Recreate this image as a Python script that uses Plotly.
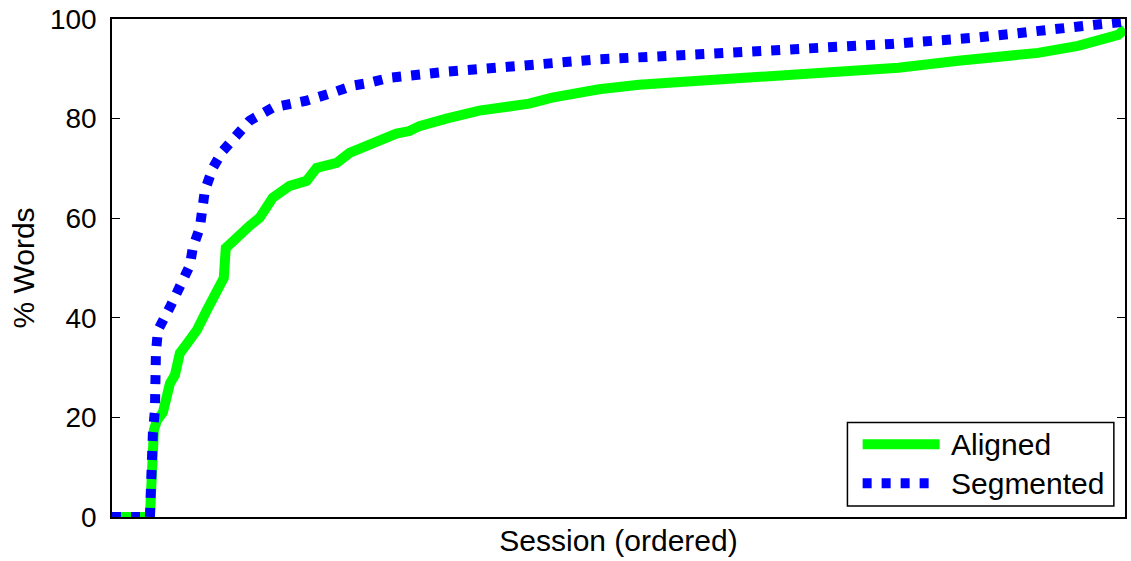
import plotly.graph_objects as go

# Sessions sorted by coverage; x is the session rank
series_names = ["Aligned", "Segmented"]

aligned_rank = [0, 38, 42, 45, 51, 58, 63, 68, 74, 85, 95, 105, 112, 114, 128, 138, 148, 161, 178, 195,
                205, 225, 238, 255, 285, 298, 308, 335, 368, 418, 441, 488, 528, 588, 688, 788, 848, 888,
                928, 968, 1001, 1008, 1015]
aligned_pct = [0, 0, 17.5, 19.4, 21, 26.8, 28.5, 32.9, 34.5, 37.5, 41.5, 45.5, 48, 54, 56.9, 58.5, 60.1,
               64.1, 66.5, 67.5, 70.1, 71.1, 73.1, 74.5, 77, 77.5, 78.5, 80, 81.6, 83, 84.2, 85.9, 86.8,
               87.6, 89, 90.2, 91.6, 92.4, 93.2, 94.6, 96, 96.8, 98]

segmented_rank = [0, 38, 41, 43, 44, 46, 58, 71, 78, 81, 88, 93, 101, 111, 125, 138, 161, 195, 221, 241,
                  258, 278, 335, 375, 431, 488, 588, 688, 781, 868, 918, 955, 995, 1011, 1015]
segmented_pct = [0, 0, 17, 21.4, 32.9, 37.5, 42.1, 47.5, 50.5, 54.1, 58.1, 65.5, 70.1, 73.5, 77, 79.6,
                 82.2, 83.6, 85.2, 86.6, 87.2, 88.2, 89.4, 90, 91.2, 91.9, 92.9, 93.9, 95, 96.3, 97.3,
                 98, 99, 99.4, 100]

y_ticks = [0, 20, 40, 60, 80, 100]

GREEN = "#00ff00"
BLUE = "#0000ff"
FONT = "Liberation Sans, Arial, Helvetica, sans-serif"
TICK_FS = 28
TEXT_FS = 30
LW = 10
DOTS = "9px,10px"

fig = go.Figure()
fig.add_trace(go.Scatter(x=aligned_rank, y=aligned_pct, mode="lines", name=series_names[0],
                         line=dict(color=GREEN, width=LW)))
fig.add_trace(go.Scatter(x=segmented_rank, y=segmented_pct, mode="lines", name=series_names[1],
                         line=dict(color=BLUE, width=LW, dash=DOTS)))

# Boxed legend in the lower-right corner with long line samples
lx0, lx1, ly0, ly1 = 0.726, 0.989, 0.022, 0.190
shapes = [
    dict(type="rect", xref="paper", yref="paper", x0=lx0, x1=lx1, y0=ly0, y1=ly1,
         line=dict(color="black", width=1.5), fillcolor="white", layer="above"),
    dict(type="line", xref="paper", yref="paper", x0=0.741, x1=0.817, y0=0.146, y1=0.146,
         line=dict(color=GREEN, width=LW), layer="above"),
    dict(type="line", xref="paper", yref="paper", x0=0.741, x1=0.810, y0=0.068, y1=0.068,
         line=dict(color=BLUE, width=LW, dash=DOTS), layer="above"),
]
annotations = [
    dict(xref="paper", yref="paper", x=0.826, y=0.146, text=series_names[0], showarrow=False,
         xanchor="left", yanchor="middle", font=dict(family=FONT, size=TEXT_FS, color="black")),
    dict(xref="paper", yref="paper", x=0.826, y=0.068, text=series_names[1], showarrow=False,
         xanchor="left", yanchor="middle", font=dict(family=FONT, size=TEXT_FS, color="black")),
]

fig.update_layout(
    width=1131, height=561,
    margin=dict(l=112, r=4, t=18, b=44),
    paper_bgcolor="white", plot_bgcolor="white",
    showlegend=False,
    font=dict(family=FONT, size=TICK_FS, color="black"),
    shapes=shapes, annotations=annotations,
    xaxis=dict(range=[0, 1015], showticklabels=False, ticks="", showgrid=False, zeroline=False,
               showline=True, linecolor="black", linewidth=1.5, mirror=True,
               title=dict(text="Session (ordered)", standoff=12, font=dict(size=TEXT_FS))),
    yaxis=dict(range=[0, 100], tickvals=y_ticks, ticks="inside", ticklen=8, tickwidth=1,
               tickcolor="black", showgrid=False, zeroline=False,
               showline=True, linecolor="black", linewidth=1.5, mirror="ticks",
               ticklabelstandoff=8, tickfont=dict(size=TICK_FS),
               title=dict(text="% Words", standoff=6, font=dict(size=TEXT_FS))),
)

fig.write_html("out.html")
